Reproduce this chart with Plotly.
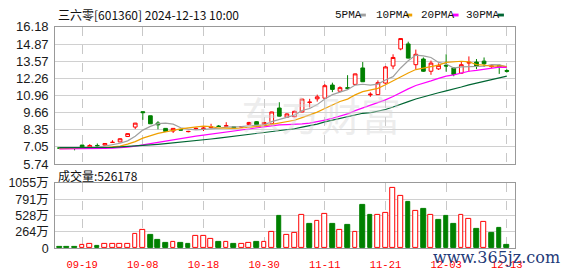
import plotly.graph_objects as go

dates = ["09-12","09-13","09-18","09-19","09-20","09-23","09-24","09-25","09-26","09-27",
         "09-30","10-08","10-09","10-10","10-11","10-14","10-15","10-16","10-17","10-18",
         "10-21","10-22","10-23","10-24","10-25","10-28","10-29","10-30","10-31","11-01",
         "11-04","11-05","11-06","11-07","11-08","11-11","11-12","11-13","11-14","11-15",
         "11-18","11-19","11-20","11-21","11-22","11-25","11-26","11-27","11-28","11-29",
         "12-02","12-03","12-04","12-05","12-06","12-09","12-10","12-11","12-12","12-13"]

opens = [6.96,6.95,6.95,7.18,7.02,7.15,7.18,7.38,7.42,7.83,
         8.55,9.72,9.41,8.86,8.45,8.25,8.35,8.20,8.42,8.42,
         8.50,8.62,8.62,8.57,8.55,8.74,8.96,8.74,8.82,10.00,
         9.30,9.34,9.70,10.42,10.70,10.75,11.75,11.28,11.55,11.80,
         13.05,11.00,11.02,11.90,13.20,14.50,14.88,13.30,13.73,12.80,
         12.98,13.25,13.05,12.65,13.42,13.50,13.57,13.15,13.25,12.85]
highs = [6.98,6.97,6.97,7.20,7.25,7.30,7.32,7.55,7.70,8.06,
         8.87,9.74,9.42,9.00,8.47,8.47,8.37,8.26,8.52,8.55,
         8.80,8.70,8.92,8.59,8.60,8.95,9.00,8.92,9.72,10.44,
         9.60,9.80,10.70,10.70,11.02,11.82,11.93,11.65,12.50,12.62,
         13.50,11.20,12.10,13.20,14.09,15.32,15.05,14.45,13.85,13.61,
         13.40,14.09,13.10,13.55,13.93,13.73,13.85,13.30,13.30,12.95]
lows = [6.93,6.92,6.78,7.00,7.00,7.05,7.15,7.36,7.40,7.80,
        8.40,9.10,8.78,8.38,8.20,8.10,8.30,8.15,8.33,8.25,
        8.45,8.55,8.60,8.47,8.52,8.70,8.70,8.72,8.65,9.35,
        9.25,9.30,9.68,10.05,10.49,10.70,11.21,11.20,11.42,11.75,
        11.98,10.85,11.00,11.85,12.96,14.40,13.78,12.96,12.75,12.53,
        12.90,12.77,12.42,12.60,12.77,12.96,13.13,13.05,12.60,12.70]
closes = [6.95,6.94,6.93,7.02,7.15,7.12,7.30,7.39,7.66,8.05,
          8.85,9.65,8.80,8.72,8.22,8.45,8.32,8.22,8.45,8.47,
          8.56,8.60,8.65,8.50,8.58,8.90,8.74,8.90,9.70,9.38,
          9.55,9.75,10.68,10.45,10.85,11.70,11.42,11.55,11.50,12.60,
          12.00,11.05,11.93,13.13,13.85,15.29,13.80,14.09,12.80,13.42,
          13.25,13.20,12.55,13.30,13.48,13.20,13.37,13.20,13.13,12.80]

ma5 = [6.94,6.95,6.95,6.97,7.00,7.03,7.10,7.20,7.32,7.50,
       7.85,8.32,8.60,8.81,8.85,8.77,8.50,8.39,8.33,8.38,
       8.40,8.46,8.55,8.56,8.58,8.65,8.67,8.72,8.96,9.12,
       9.25,9.46,9.81,9.96,10.26,10.69,11.02,11.19,11.40,11.75,
       11.81,11.74,11.82,12.14,12.39,13.05,13.60,14.03,13.97,13.85,
       13.47,13.35,13.04,13.14,13.16,13.15,13.18,13.30,13.28,13.14]
ma10 = [6.90,6.90,6.91,6.92,6.93,6.95,6.98,7.02,7.10,7.25,
        7.44,7.71,7.90,8.07,8.18,8.31,8.41,8.49,8.57,8.62,
        8.59,8.48,8.47,8.44,8.48,8.53,8.57,8.64,8.76,8.85,
        8.95,9.07,9.27,9.46,9.69,9.97,10.24,10.50,10.68,11.00,
        11.25,11.38,11.50,11.77,12.07,12.43,12.67,12.93,13.06,13.14,
        13.27,13.48,13.54,13.56,13.52,13.31,13.27,13.18,13.21,13.15]
ma20 = [6.88,6.88,6.88,6.89,6.90,6.91,6.93,6.95,6.98,7.02,
        7.10,7.20,7.30,7.40,7.50,7.60,7.70,7.78,7.86,7.94,
        8.02,8.10,8.18,8.26,8.33,8.42,8.49,8.57,8.66,8.72,
        8.74,8.75,8.80,8.85,8.95,9.08,9.22,9.38,9.55,9.80,
        10.00,10.18,10.36,10.62,10.88,11.20,11.46,11.72,11.87,12.07,
        12.26,12.43,12.52,12.67,12.80,12.87,12.97,13.06,13.12,13.10]
ma30 = [6.98,6.98,6.98,6.98,6.97,6.98,6.99,7.01,7.04,7.07,
        7.10,7.14,7.19,7.24,7.29,7.34,7.40,7.46,7.52,7.58,
        7.64,7.71,7.78,7.85,7.92,7.99,8.06,8.12,8.18,8.24,
        8.33,8.42,8.55,8.66,8.78,8.94,9.07,9.21,9.34,9.49,
        9.60,9.64,9.75,9.89,10.08,10.31,10.49,10.69,10.83,11.00,
        11.16,11.31,11.44,11.60,11.76,11.90,12.06,12.20,12.32,12.43]

volumes = [15,15,15,46,61,30,61,76,61,76,
           230,290,220,138,92,102,92,76,199,199,
           153,107,102,76,76,87,107,107,255,515,
           219,240,535,398,443,561,398,290,382,255,
           703,535,535,576,978,851,749,596,627,545,
           459,520,398,535,474,306,423,245,321,52.6]
vol_up = [0,0,0,1,1,0,1,1,1,1,
          1,1,0,0,0,1,0,0,1,1,
          1,0,1,0,1,1,0,1,1,0,
          1,1,1,0,1,1,0,1,0,1,
          0,0,1,1,1,1,0,1,0,1,
          0,0,0,1,1,0,1,0,0,0]

price_ticks = [5.74,7.05,8.35,9.66,10.96,12.26,13.57,14.87,16.18]
vol_ticks = [0,264,528,791,1055]
vol_tick_text = ["0","264万","528万","791万","1055万"]
label_dates = ["09-19","10-08","10-18","10-30","11-11","11-21","12-03","12-13"]

W, H = 578, 276
idx = list(range(len(dates)))
label_idx = [dates.index(d) for d in label_dates]

RED = "#ff0000"
GREEN = "#008000"

fig = go.Figure()
fig.add_trace(go.Candlestick(
    x=idx, open=opens, high=highs, low=lows, close=closes,
    increasing=dict(line=dict(color=RED, width=1), fillcolor="#ffffff"),
    decreasing=dict(line=dict(color=GREEN, width=1), fillcolor=GREEN),
    whiskerwidth=0, xaxis="x", yaxis="y", hoverinfo="skip"))

for vals, col in [(ma5, "#a0a0a0"), (ma10, "#f0a000"), (ma20, "#ff00ff"), (ma30, "#006633")]:
    fig.add_trace(go.Scatter(x=idx, y=vals, mode="lines", line=dict(color=col, width=1.2),
                             xaxis="x", yaxis="y", hoverinfo="skip"))

fig.add_trace(go.Bar(
    x=idx, y=volumes, width=0.62,
    marker=dict(color=["#ffffff" if u else GREEN for u in vol_up],
                line=dict(color=[RED if u else GREEN for u in vol_up], width=1)),
    xaxis="x2", yaxis="y2", hoverinfo="skip"))

xdom = [56 / W, 522 / W]
xr = [-0.55, 60.05]
frame = "#999999"
grid = "#d0d0d0"

fig.update_layout(
    width=W, height=H, margin=dict(l=0, r=0, t=0, b=0),
    paper_bgcolor="#ffffff", plot_bgcolor="#ffffff", showlegend=False,
    bargap=0,
    xaxis=dict(domain=xdom, range=xr, anchor="y", rangeslider=dict(visible=False),
               tickvals=label_idx, showticklabels=False, showgrid=True, gridcolor="#c8c8c8",
               griddash="dash", gridwidth=1, showline=True, mirror=True, linecolor=frame,
               zeroline=False, ticks=""),
    yaxis=dict(domain=[1 - 166 / H, 1 - 21 / H], range=[5.74, 16.18], anchor="x",
               tickvals=price_ticks, ticktext=["%.2f" % v for v in price_ticks],
               showgrid=True, gridcolor=grid, showline=True, mirror=True, linecolor=frame,
               zeroline=False, ticks="", ticklabelstandoff=3,
               tickfont=dict(family="Liberation Sans", size=13, color="#1a1a1a")),
    xaxis2=dict(domain=xdom, range=xr, anchor="y2", tickvals=label_idx, ticktext=label_dates,
                showgrid=True, gridcolor="#c8c8c8", griddash="dash", showline=True, mirror=True,
                linecolor=frame, zeroline=False, ticks="", ticklabelstandoff=6,
                tickfont=dict(family="Liberation Mono", size=10.5, color=RED)),
    yaxis2=dict(domain=[1 - 255 / H, 1 - 186 / H], range=[0, 1055], anchor="x2",
                tickvals=vol_ticks, ticktext=vol_tick_text, showgrid=True, gridcolor=grid,
                showline=True, mirror=True, linecolor=frame, zeroline=False, ticks="",
                ticklabelstandoff=3,
                tickfont=dict(family="Liberation Sans, Noto Sans CJK SC", size=12.5, color="#1a1a1a")),
)

def px(x):
    return x / W

def py(y):
    return 1 - y / H

ann = []
ann.append(dict(x=px(325), y=py(80), text="东方财富", showarrow=False, xref="paper", yref="paper",
                font=dict(family="Noto Sans CJK SC", size=40, color="rgba(215,215,215,0.45)")))
ann.append(dict(x=px(57), y=py(8), text="三六零[601360] 2024-12-13 10:00", showarrow=False,
                xref="paper", yref="paper", xanchor="left", yanchor="middle",
                font=dict(family="Noto Sans CJK SC", size=12, color="#111111")))
ann.append(dict(x=px(57), y=py(178), text="成交量:526178", showarrow=False,
                xref="paper", yref="paper", xanchor="left", yanchor="middle",
                font=dict(family="Noto Sans CJK SC", size=12, color="#111111")))
legend_items = [("5PMA", 338, 365, "#a0a0a0"), ("10PMA", 379, 412, "#f0a000"),
                ("20PMA", 425, 459, "#ff00ff"), ("30PMA", 471, 505, "#006633")]
shapes = []
for name, tx, sx, col in legend_items:
    ann.append(dict(x=px(tx), y=py(8), text=name, showarrow=False, xref="paper", yref="paper",
                    xanchor="left", yanchor="middle",
                    font=dict(family="Liberation Mono", size=11, color="#111111")))
    shapes.append(dict(type="rect", xref="paper", yref="paper", x0=px(sx), x1=px(sx + 6),
                       y0=py(10), y1=py(7), fillcolor=col, line=dict(width=0)))
ann.append(dict(x=px(570), y=py(265), text="www.365jz.com", showarrow=False, xref="paper",
                yref="paper", xanchor="right", yanchor="middle",
                font=dict(family="DejaVu Serif", size=16, color="#1f3a78")))
fig.update_layout(annotations=ann, shapes=shapes)

fig.write_html("out.html")
